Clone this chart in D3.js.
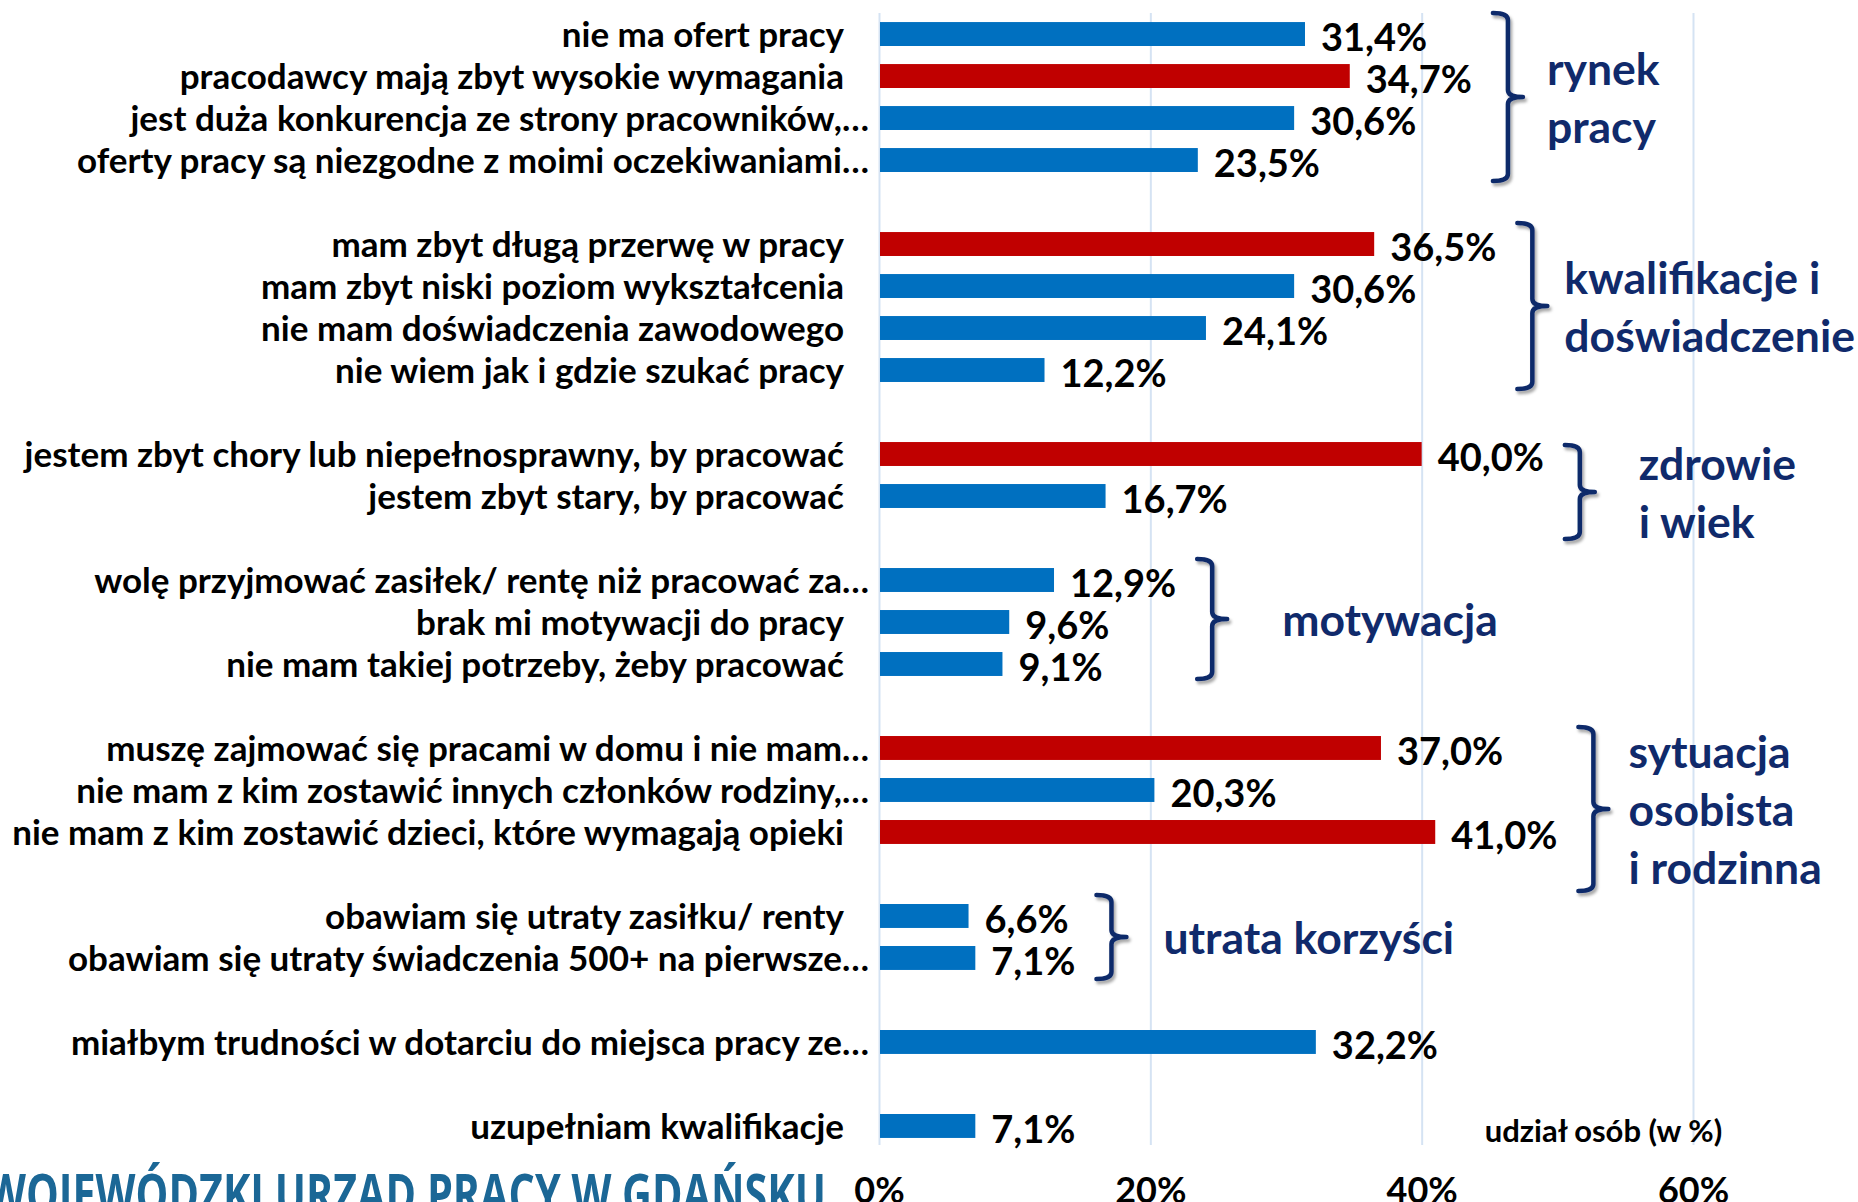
<!DOCTYPE html>
<html lang="pl">
<head>
<meta charset="utf-8">
<script src="https://cdn.jsdelivr.net/npm/d3@7/dist/d3.min.js"></script>
<style>
  body { margin: 0; background: #fff; overflow: hidden; }
  svg text { font-family: Lato, "Open Sans", sans-serif; font-weight: 700; }
</style>
</head>
<body>
<svg id="chart" width="1858" height="1202"></svg>
<script>
// dane z wykresu (udział osób w %)
const categories = [
  "nie ma ofert pracy",
  "pracodawcy mają zbyt wysokie wymagania",
  "jest duża konkurencja ze strony pracowników,…",
  "oferty pracy są niezgodne z moimi oczekiwaniami…",
  "mam zbyt długą przerwę w pracy",
  "mam zbyt niski poziom wykształcenia",
  "nie mam doświadczenia zawodowego",
  "nie wiem jak i gdzie szukać pracy",
  "jestem zbyt chory lub niepełnosprawny, by pracować",
  "jestem zbyt stary, by pracować",
  "wolę przyjmować zasiłek/ rentę niż pracować za…",
  "brak mi motywacji do pracy",
  "nie mam takiej potrzeby, żeby pracować",
  "muszę zajmować się pracami w domu i nie mam…",
  "nie mam z kim zostawić innych członków rodziny,…",
  "nie mam z kim zostawić dzieci, które wymagają opieki",
  "obawiam się utraty zasiłku/ renty",
  "obawiam się utraty świadczenia 500+ na pierwsze…",
  "miałbym trudności w dotarciu do miejsca pracy ze…",
  "uzupełniam kwalifikacje"
];
const values = [31.4, 34.7, 30.6, 23.5, 36.5, 30.6, 24.1, 12.2, 40.0, 16.7,
                12.9, 9.6, 9.1, 37.0, 20.3, 41.0, 6.6, 7.1, 32.2, 7.1];
const highlight = [0, 1, 0, 0, 1, 0, 0, 0, 1, 0,
                   0, 0, 0, 1, 0, 1, 0, 0, 0, 0];
// bloki kategorii (po każdym bloku pusta linia)
const blockSizes = [4, 4, 2, 3, 3, 2, 1, 1];
const groupLabels = [
  ["rynek", "pracy"],
  ["kwalifikacje i", "doświadczenie"],
  ["zdrowie", "i wiek"],
  ["motywacja"],
  ["sytuacja", "osobista", "i rodzinna"],
  ["utrata korzyści"]
];
const xTicks = [0, 20, 40, 60];
const axisTitle = "udział osób (w %)";
const footer = "WOJEWÓDZKI URZĄD PRACY W GDAŃSKU";

// ręczne poprawki klamer (jak w oryginale)
const braceAdjust = [[0, 0], [0, -2], [12, 22], [0, -6], [0, 38], [0, 0]];
const labelGap = [24, 17, 44, 55, 20, 37];

const BLUE = "#0070C0", RED = "#C00000", NAVY = "#102A6B", GRID = "#D5E3F3";

const svg = d3.select("#chart");

// wiersze z przerwami
const rows = [];
const blocks = [];
let k = 0;
blockSizes.forEach((n, b) => {
  const idx = d3.range(k, k + n);
  blocks.push(idx);
  idx.forEach(i => rows.push("c" + i));
  if (b < blockSizes.length - 1) rows.push("gap" + b);
  k += n;
});

const y = d3.scaleBand().domain(rows).range([4, 1156]).padding(0.43);
const x = d3.scaleLinear().domain([0, 60]).range([879, 1693]);
const cy = i => y("c" + i) + y.bandwidth() / 2;
const fmt = v => d3.format(".1f")(v).replace(".", ",") + "%";

const defs = svg.append("defs");
const f = defs.append("filter").attr("id", "shadow").attr("x", "-50%").attr("y", "-10%").attr("width", "200%").attr("height", "130%");
f.append("feDropShadow").attr("dx", 2).attr("dy", 3).attr("stdDeviation", 1.5)
  .attr("flood-color", "#000").attr("flood-opacity", 0.35);

// siatka + oś
const axis = svg.append("g").attr("transform", "translate(0,1145)")
  .call(d3.axisBottom(x).tickValues(xTicks).tickFormat(d => d + "%").tickSize(-1132).tickPadding(0));
axis.select(".domain").remove();
axis.selectAll(".tick line").attr("stroke", GRID).attr("stroke-width", 2);
axis.selectAll(".tick text").attr("dy", null).attr("y", 58)
  .attr("font-size", 36).attr("fill", "#000");

// etykiety kategorii
svg.append("g").selectAll("text").data(categories).join("text")
  .attr("x", (d) => d.endsWith("…") ? 869 : 844)
  .attr("y", (d, i) => cy(i) + 13)
  .attr("text-anchor", "end")
  .attr("font-size", 35)
  .attr("fill", "#000")
  .text(d => d);

// słupki
svg.append("g").selectAll("rect").data(values).join("rect")
  .attr("x", x(0) + 1)
  .attr("y", (d, i) => y("c" + i))
  .attr("width", d => x(d) - x(0) - 1)
  .attr("height", y.bandwidth())
  .attr("fill", (d, i) => highlight[i] ? RED : BLUE);

// wartości
const valueText = svg.append("g").selectAll("text").data(values).join("text")
  .attr("x", d => x(d) + 16)
  .attr("y", (d, i) => cy(i) + 17)
  .attr("font-size", 38)
  .attr("fill", "#000")
  .text(fmt);
const labelEnd = [];
valueText.each(function (d, i) { labelEnd[i] = x(d) + 16 + this.getComputedTextLength(); });

// klamry grup
const braces = svg.append("g");
groupLabels.forEach((lines, g) => {
  const idx = blocks[g];
  const top = cy(idx[0]) - 21 + braceAdjust[g][0];
  const bot = cy(idx[idx.length - 1]) + 21 + braceAdjust[g][1];
  const mid = (top + bot) / 2;
  const bx = d3.max(idx, i => labelEnd[i]) + 36;
  const h = 15, r = 7;
  const p = d3.path();
  p.moveTo(bx - h, top);
  p.quadraticCurveTo(bx, top, bx, top + r);
  p.lineTo(bx, mid - r);
  p.quadraticCurveTo(bx, mid, bx + h, mid);
  p.quadraticCurveTo(bx, mid, bx, mid + r);
  p.lineTo(bx, bot - r);
  p.quadraticCurveTo(bx, bot, bx - h, bot);
  braces.append("path").attr("d", p.toString())
    .attr("fill", "none").attr("stroke", NAVY).attr("stroke-width", 4.5)
    .attr("stroke-linecap", "round").attr("stroke-linejoin", "round")
    .attr("filter", "url(#shadow)");
  const lx = bx + h + labelGap[g];
  braces.append("g").selectAll("text").data(lines).join("text")
    .attr("x", lx)
    .attr("y", (d, j) => mid + (j - (lines.length - 1) / 2) * 58 + 17)
    .attr("font-size", 44.5)
    .attr("fill", NAVY)
    .text(d => d);
});

// tytuł osi
svg.append("text")
  .attr("x", x(53.4)).attr("y", 1142)
  .attr("text-anchor", "middle")
  .attr("font-size", 31).attr("fill", "#000")
  .text(axisTitle);

// stopka (ucięta)
svg.append("text")
  .attr("x", -14).attr("y", 1214)
  .attr("textLength", 840).attr("lengthAdjust", "spacingAndGlyphs")
  .attr("font-size", 56).attr("fill", "#1B6796")
  .style("font-family", "'Open Sans', sans-serif")
  .text(footer);
</script>
</body>
</html>
